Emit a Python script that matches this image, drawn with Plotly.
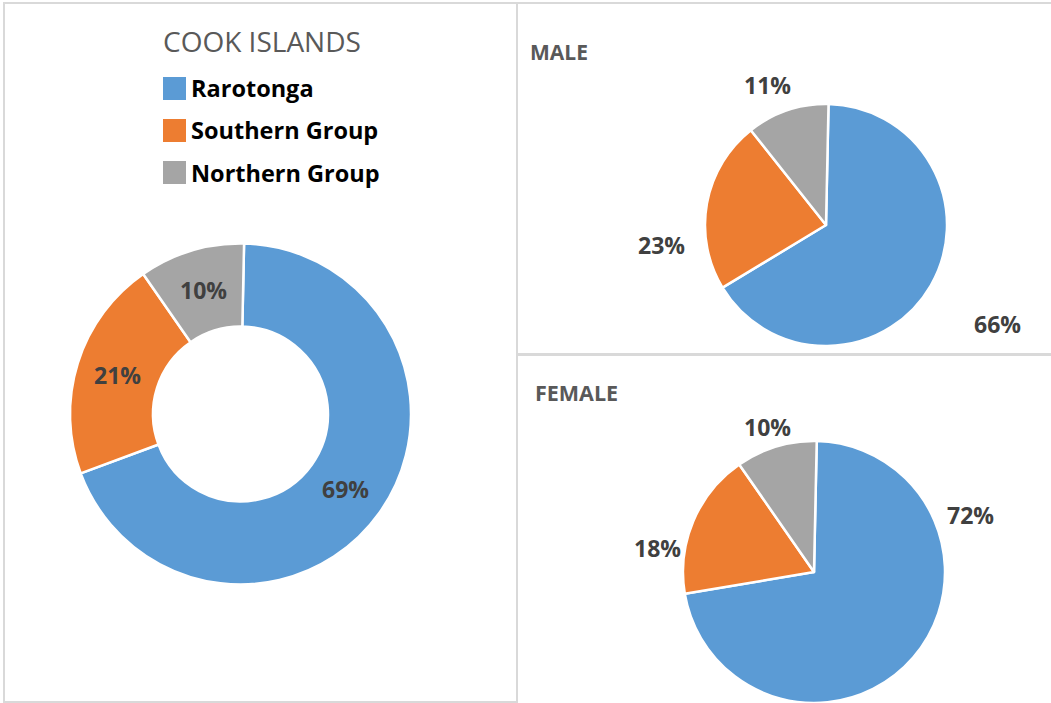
import math
import plotly.graph_objects as go

# ---------------- data ----------------
categories = ["Rarotonga", "Southern Group", "Northern Group"]
total_values = [69, 21, 10]
male_values = [66, 23, 11]
female_values = [72, 18, 10]
chart_title = "COOK ISLANDS"
male_title = "MALE"
female_title = "FEMALE"

# ---------------- style ----------------
W, H = 1051, 703
colors = ["#5B9BD5", "#ED7D31", "#A5A5A5"]
FONT = "Open Sans, Noto Sans, DejaVu Sans, sans-serif"
LABEL_COLOR = "#404040"
TITLE_COLOR = "#595959"
BORDER = "#D9D9D9"
ROT = 1.2

# pie geometry (pixel centre, radius)
pies = {
    "total": dict(values=total_values, cx=240.5, cy=414, r=170.5, hole=0.513),
    "male": dict(values=male_values, cx=826, cy=225, r=121, hole=0),
    "female": dict(values=female_values, cx=814, cy=572, r=131, hole=0),
}
# label placement: (angle shift from slice mid-angle in deg, distance / radius)
label_place = {
    "total": [(0, 0.757), (0, 0.757), (0, 0.757)],
    "male": [(0, 1.64), (-17, 1.37), (-4, 1.25)],
    "female": [(-61, 1.27), (-14, 1.21), (-1, 1.16)],
}


def px(x):
    return x / W


def py(y):
    return 1 - y / H


fig = go.Figure()
annotations = []
for key, p in pies.items():
    fig.add_trace(go.Pie(
        labels=categories,
        values=p["values"],
        hole=p["hole"],
        sort=False,
        direction="clockwise",
        rotation=ROT,
        marker=dict(colors=colors, line=dict(color="white", width=2.5)),
        textinfo="none",
        hoverinfo="label+value",
        showlegend=False,
        domain=dict(x=[px(p["cx"] - p["r"]), px(p["cx"] + p["r"])],
                    y=[max(0, py(p["cy"] + p["r"])), py(p["cy"] - p["r"])]),
    ))
    tot = sum(p["values"])
    cum = 0
    for i, v in enumerate(p["values"]):
        mid = (cum + v / 2) / tot * 360 + ROT
        cum += v
        shift, fac = label_place[key][i]
        a = math.radians(mid + shift)
        d = p["r"] * fac
        lx = p["cx"] + d * math.sin(a)
        ly = p["cy"] - d * math.cos(a)
        annotations.append(dict(
            x=px(lx), y=py(ly), xref="paper", yref="paper",
            text=f"{round(v / tot * 100)}%", showarrow=False,
            xanchor="center", yanchor="middle",
            font=dict(family=FONT, size=23, color=LABEL_COLOR, weight="bold"),
        ))

# titles
annotations.append(dict(x=px(261.5), y=py(41), xref="paper", yref="paper",
                        text=chart_title, showarrow=False, xanchor="center",
                        yanchor="middle",
                        font=dict(family=FONT, size=28, color=TITLE_COLOR)))
annotations.append(dict(x=px(528), y=py(52.5), xref="paper", yref="paper",
                        text=f"<b>{male_title}</b>", showarrow=False,
                        xanchor="left", yanchor="middle",
                        font=dict(family=FONT, size=21, color=TITLE_COLOR)))
annotations.append(dict(x=px(533), y=py(392), xref="paper", yref="paper",
                        text=f"<b>{female_title}</b>", showarrow=False,
                        xanchor="left", yanchor="middle",
                        font=dict(family=FONT, size=21.5, color=TITLE_COLOR)))

shapes = []
# custom legend
for i, (cat, col) in enumerate(zip(categories, colors)):
    yc = 88.5 + 42 * i
    shapes.append(dict(type="rect", xref="paper", yref="paper",
                       x0=px(163), x1=px(186), y0=py(yc + 11.5), y1=py(yc - 11.5),
                       fillcolor=col, line=dict(width=0)))
    annotations.append(dict(x=px(189), y=py(yc), xref="paper", yref="paper",
                            text=f"<b>{cat}</b>", showarrow=False,
                            xanchor="left", yanchor="middle",
                            font=dict(family=FONT, size=23.5, color="black")))

# panel borders
for (x0, y0, x1, y1) in [(4, 3, 517, 702), (517, 3, 1053, 354), (517, 355, 1053, 706)]:
    shapes.append(dict(type="rect", xref="paper", yref="paper",
                       x0=px(x0), x1=px(x1), y0=py(y1), y1=py(y0),
                       line=dict(color=BORDER, width=2), fillcolor="rgba(0,0,0,0)",
                       layer="below"))

fig.update_layout(
    width=W, height=H,
    margin=dict(l=0, r=0, t=0, b=0),
    paper_bgcolor="white", plot_bgcolor="white",
    annotations=annotations, shapes=shapes,
    showlegend=False,
)
fig.write_html("out.html",
               config={"displayModeBar": False},
               post_script="document.body.style.margin='0';document.body.style.overflow='hidden';")
